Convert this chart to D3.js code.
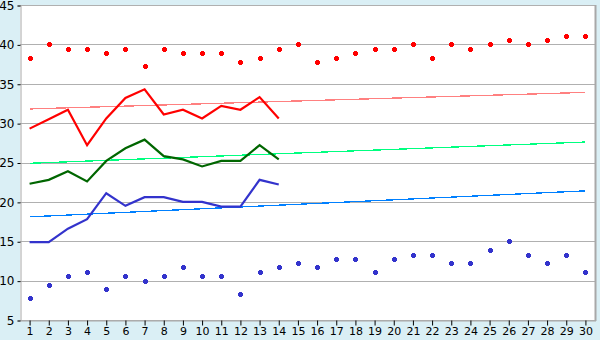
<!DOCTYPE html>
<html><head><meta charset="utf-8">
<script src="https://cdn.jsdelivr.net/npm/d3@7"></script>
<style>
html,body{margin:0;padding:0;background:#daeff5;}
svg{display:block;font-family:"DejaVu Sans",Verdana,sans-serif;}
</style></head><body>
<svg id="chart" width="600" height="340"></svg>
<script>
const categories = d3.range(1, 31).map(String);
const yTicks = [5, 10, 15, 20, 25, 30, 35, 40, 45];

const highPoints = [38.3,40,39.4,39.4,38.9,39.4,37.2,39.4,38.9,38.9,38.9,37.8,38.3,39.4,40,
                    37.8,38.3,38.9,39.4,39.4,40,38.3,40,39.4,40,40.6,40,40.6,41.1,41.1];
const lowPoints = [7.8,9.4,10.6,11.1,8.9,10.6,10,10.6,11.7,10.6,10.6,8.3,11.1,11.7,12.2,
                   11.7,12.8,12.8,11.1,12.8,13.3,13.3,12.2,12.2,13.9,15,13.3,12.2,13.3,11.1];
const redLine = [29.3,30.5,31.7,27.2,30.6,33.2,34.3,31.1,31.7,30.6,32.2,31.7,33.3,30.6];
const greenLine = [22.3,22.8,23.9,22.6,25.2,26.8,27.9,25.8,25.4,24.5,25.2,25.2,27.2,25.4];
const blueLine = [14.9,14.9,16.6,17.8,21.1,19.5,20.6,20.6,20.0,20.0,19.4,19.4,22.8,22.2];
// trend lines: value at first and last category
const redTrend = [31.8, 33.9];
const greenTrend = [24.9, 27.6];
const blueTrend = [18.1, 21.4];

const svg = d3.select("#chart");
const pL = 20, pR = 595, pT = 5, pB = 320;

svg.append("rect").attr("x", pL).attr("y", pT).attr("width", pR - pL).attr("height", pB - pT).attr("fill", "#ffffff");

const x = d3.scaleBand().domain(categories).range([pL, pR]).padding(0);
const cx = c => x(c) + x.bandwidth() / 2;
const y = d3.scaleLinear().domain([5, 45]).range([pB, pT]);

// gridlines
svg.append("g").selectAll("line").data(yTicks).join("line")
  .attr("x1", pL).attr("x2", pR)
  .attr("y1", d => Math.round(y(d)) + 0.5).attr("y2", d => Math.round(y(d)) + 0.5)
  .attr("stroke", "#b0b0b0").attr("stroke-width", 1);

// right border
svg.append("line").attr("x1", pR + 0.5).attr("x2", pR + 0.5).attr("y1", pT).attr("y2", pB + 1)
  .attr("stroke", "#a8a8a8").attr("stroke-width", 2);

// y axis
const yAxis = d3.axisLeft(y).tickValues(yTicks).tickSize(3).tickPadding(3);
const gy = svg.append("g").attr("transform", `translate(${pL + 0.5},0.5)`).call(yAxis);
gy.select(".domain").attr("stroke", "#a8a8a8");
gy.selectAll(".tick line").attr("stroke", "#000");
gy.selectAll("text").attr("font-size", 12).attr("fill", "#000").attr("font-family", "DejaVu Sans, sans-serif");

// x axis
const xAxis = d3.axisBottom(x).tickSize(5).tickPadding(2).tickSizeOuter(0);
const gx = svg.append("g").attr("transform", `translate(0.5,${pB + 0.5})`).call(xAxis);
gx.select(".domain").attr("stroke", "#a8a8a8");
gx.selectAll(".tick line").attr("stroke", "#000");
gx.selectAll("text").attr("font-size", 11).attr("fill", "#000").attr("font-family", "DejaVu Sans, sans-serif");

// trend lines
function trend(vals, color) {
  svg.append("line")
    .attr("x1", cx(categories[0])).attr("x2", cx(categories[categories.length - 1]))
    .attr("y1", y(vals[0])).attr("y2", y(vals[1]))
    .attr("stroke", color).attr("stroke-width", 1.3).attr("shape-rendering", "crispEdges");
}
trend(redTrend, "#ff8080");
trend(greenTrend, "#00ff80");
trend(blueTrend, "#0080ff");

// lines
const lineGen = d3.line().x((d, i) => cx(categories[i])).y(d => y(d));
function series(vals, color) {
  svg.append("path").attr("d", lineGen(vals)).attr("fill", "none")
    .attr("stroke", color).attr("stroke-width", 2.2).attr("stroke-linejoin", "miter");
}
series(redLine, "#ff0000");
series(greenLine, "#006600");
series(blueLine, "#3333cc");

// markers (small plus)
const plus = "M-1.5,-2.5h3v1h1v3h-1v1h-3v-1h-1v-3h1z";
function markers(vals, color) {
  svg.append("g").selectAll("path").data(vals).join("path")
    .attr("d", plus)
    .attr("transform", (d, i) => `translate(${Math.round(cx(categories[i])) + 0.5},${Math.round(y(d)) + 0.5})`)
    .attr("fill", color).attr("shape-rendering", "crispEdges");
}
markers(highPoints, "#ff0000");
markers(lowPoints, "#3333cc");
</script>
</body></html>
